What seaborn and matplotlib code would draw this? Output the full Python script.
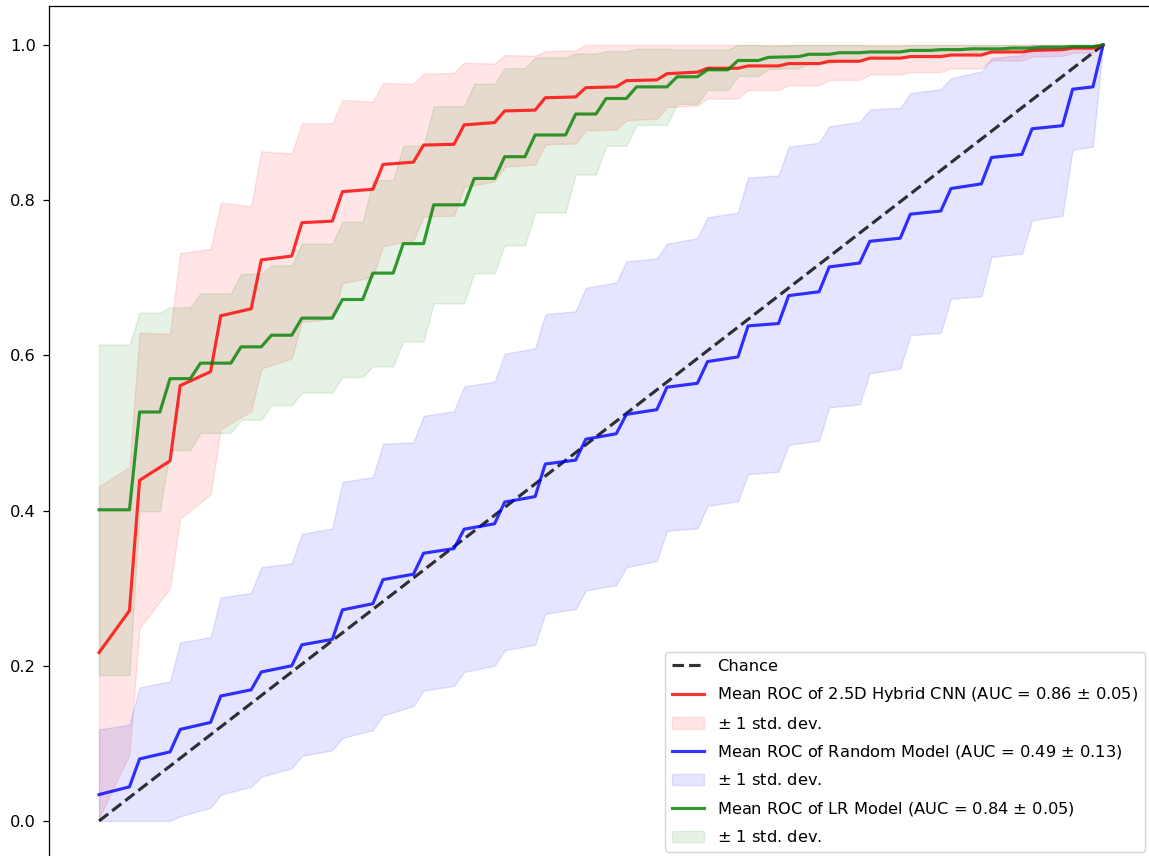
import numpy as np
import matplotlib
matplotlib.use("Agg")
import matplotlib.pyplot as plt
import seaborn as sns

# Mean ROC curves, interpolated on a common 100-point false-positive-rate grid
fpr_grid = np.linspace(0, 1, 100)

# grid indices at which each averaged curve has a vertex (plateau start / end)
cnn_idx = [0, 3, 4, 7, 8, 11, 12, 15, 16, 19, 20, 23, 24, 27, 28, 31, 32, 35,
           36, 39, 40, 43, 44, 47, 48, 51, 52, 55, 56, 59, 60, 63, 64, 67, 68,
           71, 72, 75, 76, 79, 80, 83, 84, 87, 88, 91, 92, 95, 96, 98, 99]
rand_idx = cnn_idx
lr_idx = [0, 3, 4, 6, 7, 9, 10, 13, 14, 16, 17, 19, 20, 23, 24, 26, 27, 29,
          30, 32, 33, 36, 37, 39, 40, 42, 43, 46, 47, 49, 50, 52, 53, 56, 57,
          59, 60, 62, 63, 65, 66, 69, 70, 72, 73, 75, 76, 79, 80, 82, 83, 85,
          86, 89, 90, 92, 93, 95, 96, 98, 99]

# 2.5D Hybrid CNN
cnn_tpr = [0.217, 0.271, 0.439, 0.464, 0.561, 0.579, 0.651, 0.660, 0.723, 0.728,
           0.771, 0.773, 0.811, 0.814, 0.846, 0.849, 0.871, 0.872, 0.897, 0.900,
           0.915, 0.916, 0.932, 0.933, 0.945, 0.946, 0.954, 0.955, 0.963, 0.965,
           0.970, 0.970, 0.973, 0.973, 0.976, 0.976, 0.979, 0.979, 0.983, 0.983,
           0.985, 0.985, 0.987, 0.987, 0.991, 0.991, 0.993, 0.994, 0.996, 0.996,
           1.000]
cnn_std = [0.214, 0.185, 0.190, 0.164, 0.171, 0.158, 0.146, 0.132, 0.140, 0.132,
           0.128, 0.126, 0.118, 0.113, 0.105, 0.101, 0.092, 0.092, 0.080, 0.076,
           0.072, 0.070, 0.060, 0.060, 0.055, 0.055, 0.051, 0.050, 0.043, 0.043,
           0.039, 0.039, 0.031, 0.031, 0.028, 0.028, 0.024, 0.024, 0.021, 0.021,
           0.020, 0.020, 0.017, 0.017, 0.011, 0.011, 0.008, 0.008, 0.006, 0.006,
           0.000]

# Random model
rand_tpr = [0.034, 0.044, 0.080, 0.089, 0.118, 0.127, 0.161, 0.169, 0.192, 0.200,
            0.227, 0.234, 0.272, 0.280, 0.311, 0.318, 0.345, 0.351, 0.376, 0.383,
            0.411, 0.418, 0.460, 0.465, 0.492, 0.499, 0.524, 0.530, 0.559, 0.564,
            0.592, 0.598, 0.638, 0.641, 0.677, 0.682, 0.714, 0.719, 0.747, 0.751,
            0.782, 0.786, 0.815, 0.821, 0.855, 0.859, 0.892, 0.896, 0.943, 0.946,
            1.000]
rand_std = [0.084, 0.080, 0.092, 0.091, 0.112, 0.110, 0.127, 0.125, 0.135, 0.132,
            0.143, 0.143, 0.165, 0.163, 0.175, 0.170, 0.177, 0.177, 0.184, 0.183,
            0.191, 0.191, 0.193, 0.192, 0.195, 0.195, 0.197, 0.195, 0.185, 0.187,
            0.186, 0.186, 0.191, 0.191, 0.192, 0.192, 0.181, 0.182, 0.170, 0.168,
            0.156, 0.157, 0.142, 0.145, 0.128, 0.128, 0.118, 0.116, 0.078, 0.077,
            0.000]

# Logistic regression model
lr_tpr = [0.401, 0.401, 0.527, 0.527, 0.570, 0.570, 0.590, 0.590, 0.611, 0.611,
          0.626, 0.626, 0.648, 0.648, 0.672, 0.672, 0.706, 0.706, 0.744, 0.744,
          0.794, 0.794, 0.828, 0.828, 0.856, 0.856, 0.884, 0.884, 0.911, 0.911,
          0.931, 0.931, 0.946, 0.946, 0.959, 0.959, 0.968, 0.968, 0.980, 0.980,
          0.984, 0.985, 0.988, 0.988, 0.990, 0.990, 0.991, 0.991, 0.993, 0.993,
          0.994, 0.994, 0.995, 0.995, 0.996, 0.996, 0.997, 0.997, 0.998, 0.998,
          1.000]
lr_std = [0.213, 0.213, 0.128, 0.128, 0.092, 0.092, 0.090, 0.090, 0.094, 0.094,
          0.090, 0.090, 0.096, 0.096, 0.100, 0.100, 0.120, 0.120, 0.126, 0.126,
          0.127, 0.127, 0.122, 0.122, 0.114, 0.114, 0.100, 0.100, 0.078, 0.078,
          0.061, 0.061, 0.049, 0.049, 0.035, 0.035, 0.026, 0.026, 0.020, 0.020,
          0.015, 0.015, 0.012, 0.012, 0.010, 0.010, 0.008, 0.008, 0.007, 0.007,
          0.006, 0.006, 0.005, 0.005, 0.004, 0.004, 0.003, 0.003, 0.002, 0.002,
          0.000]

models = [
    ("Mean ROC of 2.5D Hybrid CNN (AUC = 0.86 $\\pm$ 0.05)", cnn_idx, cnn_tpr, cnn_std, "r"),
    ("Mean ROC of Random Model (AUC = 0.49 $\\pm$ 0.13)", rand_idx, rand_tpr, rand_std, "b"),
    ("Mean ROC of LR Model (AUC = 0.84 $\\pm$ 0.05)", lr_idx, lr_tpr, lr_std, "g"),
]

plt.rcParams.update({
    "font.family": "DejaVu Sans",
    "font.size": 11.7,
    "axes.linewidth": 0.9,
    "xtick.major.size": 4.0,
    "ytick.major.size": 4.0,
    "xtick.major.width": 0.9,
    "ytick.major.width": 0.9,
    "xtick.major.pad": 4.0,
    "ytick.major.pad": 5.4,
})

LW = 2.25

fig = plt.figure(figsize=(11.49, 8.56), dpi=100)
ax = fig.add_axes([0.0425, -0.0044, 0.9612, 0.9972])

sns.lineplot(x=[0, 1], y=[0, 1], ax=ax, color="k", linestyle="--", lw=LW,
             alpha=0.8, label="Chance")

for label, idx, tpr, std, color in models:
    fpr = fpr_grid[idx]
    tpr = np.asarray(tpr)
    std = np.asarray(std)
    sns.lineplot(x=fpr, y=tpr, ax=ax, color=color, lw=LW, alpha=0.8,
                 label=label)
    upper = np.minimum(tpr + std, 1)
    lower = np.maximum(tpr - std, 0)
    ax.fill_between(fpr, lower, upper, color=color, alpha=0.1,
                    label="$\\pm$ 1 std. dev.")

ax.set_xlim(-0.05, 1.05)
ax.set_ylim(-0.05, 1.05)
ax.set_xlabel("")
ax.set_ylabel("")
ax.tick_params(axis="x", labelbottom=False)
ax.legend(loc="lower right", labelspacing=0.7)

fig.savefig("out.png", dpi=100)
